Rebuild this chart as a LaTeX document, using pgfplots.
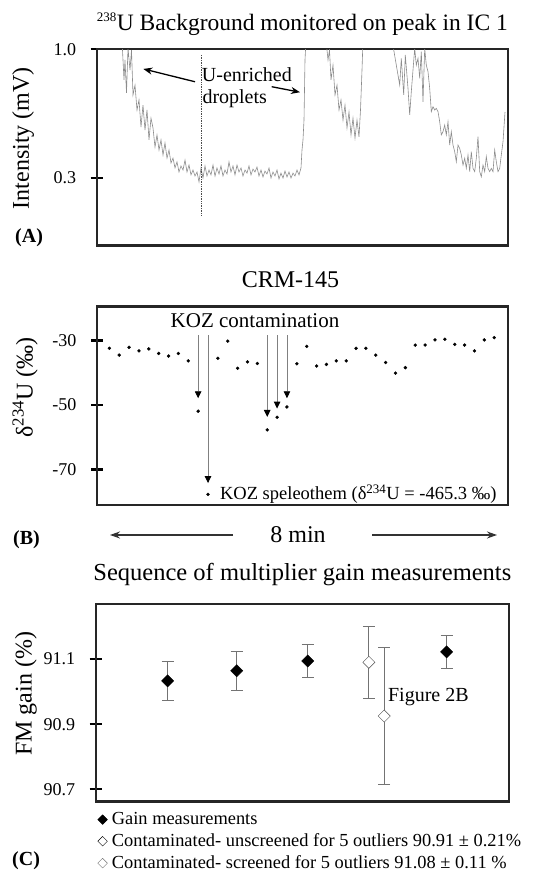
\documentclass[border=0pt]{standalone}
\usepackage{fontspec}
\setmainfont{Liberation Serif}
\usepackage{pgfplots}
\usepackage{pgfplotstable}
\pgfplotsset{compat=1.18}
\usetikzlibrary{arrows.meta}

\pgfplotstableread{
x y
120 1.2
122 1.05
124 0.833
125 0.942
126.5 0.762
128 1.007
130 0.887
131.5 0.996
133 0.751
135 0.805
137 0.669
139 0.724
141 0.576
143 0.696
145 0.560
147 0.669
149 0.506
151 0.625
153 0.571
155 0.467
157 0.533
159 0.451
161 0.506
163 0.424
165 0.489
167 0.407
169 0.451
171 0.380
173 0.407
175 0.353
177 0.386
179 0.331
181 0.364
183 0.342
185 0.396
187 0.331
189 0.369
191 0.315
193 0.342
195 0.309
197 0.331
199 0.277
201 0.353
203 0.298
205 0.364
207 0.309
209 0.342
211 0.315
213 0.369
215 0.309
217 0.353
219 0.320
221 0.364
223 0.309
225 0.342
227 0.320
229 0.386
231 0.331
233 0.364
235 0.315
237 0.369
239 0.331
241 0.353
243 0.309
245 0.342
247 0.325
249 0.364
251 0.315
253 0.347
255 0.331
257 0.358
259 0.309
261 0.342
263 0.304
265 0.336
267 0.320
269 0.353
271 0.298
273 0.331
275 0.309
277 0.342
279 0.293
281 0.325
283 0.298
285 0.336
287 0.304
289 0.331
291 0.298
293 0.325
295 0.309
297 0.342
299 0.315
301 0.353
302 0.451
303 0.506
304 0.614
305 0.942
306 1.05
308 1.2
324 1.2
326 1.05
328 0.942
329.5 0.996
331 0.833
333 0.914
335 0.751
337 0.805
339 0.669
341 0.724
343 0.614
345 0.696
347 0.571
349 0.658
351 0.533
353 0.625
355 0.516
357 0.614
359 0.522
360.5 0.669
362 0.887
363 1.05
365 1.2
391 1.2
393 1.02
396.3 0.914
399.7 0.805
401.3 0.951
403.7 0.751
405.3 0.969
408 0.787
409.7 0.642
411.3 0.769
414.7 1.005
416.3 0.914
418 0.951
419.7 0.842
421.3 0.987
423 0.714
424.7 1.005
426.3 0.914
428 0.878
429.7 0.787
431.3 0.660
433 0.687
434.7 0.669
436.3 0.678
438 0.660
439.7 0.605
441.3 0.533
443 0.551
444.7 0.587
446.3 0.533
448 0.605
449.7 0.478
451.3 0.551
453 0.478
454.7 0.442
456.3 0.387
458 0.478
459.7 0.460
461.3 0.424
463 0.369
464.7 0.406
466.3 0.351
468 0.424
469.7 0.333
471.3 0.442
473 0.351
474.7 0.333
476.3 0.406
478 0.524
479.7 0.333
481.3 0.305
483 0.369
484.7 0.333
486.3 0.415
488 0.351
489.7 0.333
491.3 0.351
493 0.333
494.7 0.451
496.3 0.387
498 0.333
499.7 0.351
501.3 0.424
503 0.496
505 0.658
}\bgdata

\pgfplotstableread{
n d
1 -32.4
2 -34.5
3 -32.1
4 -33.2
5 -32.6
6 -34.0
7 -34.8
8 -34.0
9 -36.3
10 -51.9
11 -77.7
12 -35.5
13 -30.2
14 -38.6
15 -36.6
16 -37.1
17 -57.7
18 -53.8
19 -50.6
20 -37.2
21 -31.8
22 -37.9
23 -37.4
24 -36.3
25 -36.3
26 -32.4
27 -32.4
28 -34.5
29 -36.8
30 -40.1
31 -38.4
32 -31.4
33 -31.4
34 -29.8
35 -29.6
36 -31.2
37 -31.4
38 -33.2
39 -29.8
40 -29.1
}\crmdata

\pgfplotsset{
  panel/.style={
    scale only axis,
    axis line style={line width=2.4pt, black!85},
    xtick=\empty,
    ytick pos=left,
    tick style={line width=2.2pt, black},
    major tick length=12pt,
    tick align=center,
    yticklabel style={font=\fontsize{18}{21}\selectfont, xshift=-11pt},
    title style={font=\fontsize{24}{27}\selectfont, at={(0.5,1)}, anchor=base},
  },
}

\begin{document}
\begin{tikzpicture}
\path[use as bounding box] (0pt,0pt) rectangle (533pt,873pt);

% ---------------- Panel A ----------------
\begin{axis}[panel,
  at={(96.7pt,627.3pt)}, anchor=south west,
  width=411.3pt, height=196.4pt,
  xmin=96.7, xmax=508, ymin=-0.0708, ymax=1.0,
  ytick={0.3,1.0}, yticklabels={0.3,1.0},
  title={\textsuperscript{\fontsize{13}{14}\selectfont 238}U Background monitored on peak in IC 1},
  title style={yshift=12.6pt, font=\fontsize{23.5}{26}\selectfont},
  every axis y label/.style={at={(axis description cs:-0.179,0.547)}, rotate=90, anchor=center, font=\fontsize{24}{28}\selectfont},
  ylabel={Intensity (mV)},
]
\addplot[black!45, line width=0.6pt] table[x=x, y=y] {\bgdata};
\draw[densely dotted, black!70, line width=0.7pt] (axis cs:201.7,0.969) -- (axis cs:201.7,0.097);
\node[anchor=base west, inner sep=0pt, font=\fontsize{20}{24}\selectfont] at (axis cs:201.7,0.823) {U-enriched};
\node[anchor=base west, inner sep=0pt, font=\fontsize{20}{24}\selectfont] at (axis cs:202.3,0.706) {droplets};
\draw[line width=1.3pt, -{Stealth[length=9pt,width=7pt]}] (axis cs:195,0.823) -- (axis cs:143.3,0.893);
\draw[line width=1.3pt, -{Stealth[length=9pt,width=7pt]}] (axis cs:271.7,0.796) -- (axis cs:300,0.766);
\end{axis}

% ---------------- Panel B ----------------
\begin{axis}[panel,
  at={(97pt,368pt)}, anchor=south west,
  width=411pt, height=198.3pt,
  xmin=-0.25, xmax=41.4, ymin=-81, ymax=-19.5,
  ytick={-70,-50,-30}, yticklabels={-70,-50,-30},
  title={CRM-145},
  title style={yshift=13pt, xshift=-12pt},
  every axis y label/.style={at={(axis description cs:-0.175,0.593)}, rotate=90, anchor=center, font=\fontsize{24}{28}\selectfont},
  ylabel={δ\textsuperscript{234}U (‰)},
]
\addplot[only marks, mark=*, mark size=1.5pt, black] table[x=n, y=d] {\crmdata};
\node[anchor=base, inner sep=0pt, font=\fontsize{21}{24}\selectfont] at (axis cs:15.76,-25.8) {KOZ contamination};
\draw[black!50, line width=0.9pt, -{Triangle[length=7pt,width=6.5pt,black]}] (axis cs:10,-28.4) -- (axis cs:10,-47.9);
\draw[black!50, line width=0.9pt, -{Triangle[length=7pt,width=6.5pt,black]}] (axis cs:11,-28.4) -- (axis cs:11,-74.2);
\draw[black!50, line width=0.9pt, -{Triangle[length=7pt,width=6.5pt,black]}] (axis cs:17,-28.4) -- (axis cs:17,-53.7);
\draw[black!50, line width=0.9pt, -{Triangle[length=7pt,width=6.5pt,black]}] (axis cs:18,-28.4) -- (axis cs:18,-51.1);
\draw[black!50, line width=0.9pt, -{Triangle[length=7pt,width=6.5pt,black]}] (axis cs:19,-28.4) -- (axis cs:19,-47.9);
\node[anchor=base west, inner sep=0pt, font=\fontsize{18.5}{22}\selectfont] at (axis cs:12.2,-79.4) {KOZ speleothem (δ\textsuperscript{234}U = -465.3 ‰)};
\end{axis}

% below panel B
\node[anchor=base west, inner sep=0pt, font=\bfseries\fontsize{20}{24}\selectfont] at (13pt,328pt) {(B)};
\draw[line width=1.4pt, black!80, -{Stealth[length=10pt,width=7pt]}] (233pt,338pt) -- (110pt,338pt);
\draw[line width=1.4pt, black!80, -{Stealth[length=10pt,width=7pt]}] (372pt,338pt) -- (497pt,338pt);
\node[anchor=base, inner sep=0pt, font=\fontsize{24}{28}\selectfont] at (298pt,330pt) {8 min};

% ---------------- Panel C ----------------
\begin{axis}[panel,
  at={(95.7pt,71.3pt)}, anchor=south west,
  width=413.3pt, height=197.4pt,
  xmin=0, xmax=10, ymin=90.662, ymax=91.268,
  ytick={90.7,90.9,91.1}, yticklabels={90.7,90.9,91.1},
  title={Sequence of multiplier gain measurements},
  title style={yshift=18pt, font=\fontsize{24.5}{27}\selectfont},
  every axis y label/.style={at={(axis description cs:-0.169,0.546)}, rotate=90, anchor=center, font=\fontsize{24}{28}\selectfont},
  ylabel={FM gain (\%)},
  legend style={at={(axis description cs:0.004,-0.045)}, anchor=north west, draw=none, fill=none,
    font=\fontsize{18.4}{22}\selectfont, inner sep=0pt, row sep=3.5pt, cells={anchor=west},
    /tikz/every even column/.append style={column sep=0pt}},
  legend cell align=left,
  legend image code/.code={\draw[#1] plot coordinates {(0.17cm,0cm)}; \path (0cm,0cm) (0.42cm,0cm);},
  error bars/error bar style={black!55, line width=0.8pt},
  error bars/error mark options={rotate=90, black!55, mark size=6pt, line width=0.8pt},
]
\addplot[only marks, mark=square*, mark size=4.3pt, mark options={rotate=45, fill=black, draw=black}, forget plot,
  error bars/.cd, y dir=both, y explicit] coordinates {
  (1.74,91.033) +- (0,0.06)
  (3.41,91.064) +- (0,0.06)
  (5.13,91.094) +- (0,0.05)
  (8.49,91.122) +- (0,0.05)
};
\addplot[only marks, mark=square*, mark size=4.3pt, mark options={rotate=45, fill=white, draw=black!70}, forget plot,
  error bars/.cd, y dir=both, y explicit] coordinates {
  (6.61,91.09) +- (0,0.11)
};
\addplot[only marks, mark=square*, mark size=4.3pt, mark options={rotate=45, fill=white, draw=black!70}, forget plot,
  error bars/.cd, y dir=both, y explicit] coordinates {
  (6.98,90.925) +- (0,0.21)
};
\node[anchor=base west, inner sep=0pt, font=\fontsize{20}{24}\selectfont] at (axis cs:7.07,90.969) {Figure 2B};
\addlegendimage{only marks, mark=square*, mark size=3.4pt, mark options={rotate=45, fill=black, draw=black}}
\addlegendentry{Gain measurements}
\addlegendimage{only marks, mark=square*, mark size=3.4pt, mark options={rotate=45, fill=white, draw=black}}
\addlegendentry{Contaminated- unscreened for 5 outliers 90.91 ± 0.21\%}
\addlegendimage{only marks, mark=square*, mark size=3.4pt, mark options={rotate=45, fill=white, draw=black!55}}
\addlegendentry{Contaminated- screened for 5 outliers 91.08 ± 0.11 \%}
\end{axis}

\node[anchor=base west, inner sep=0pt, font=\bfseries\fontsize{20}{24}\selectfont] at (15pt,630pt) {(A)};
\node[anchor=base west, inner sep=0pt, font=\bfseries\fontsize{20}{24}\selectfont] at (12pt,7pt) {(C)};
\end{tikzpicture}
\end{document}
